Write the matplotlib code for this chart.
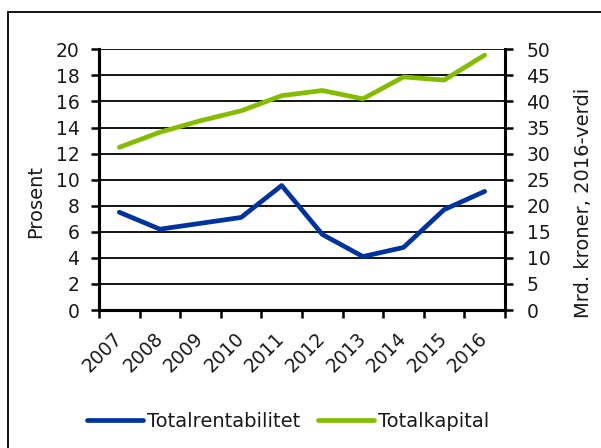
import matplotlib
matplotlib.use("Agg")
import matplotlib.pyplot as plt
from matplotlib.patches import Rectangle
from matplotlib.lines import Line2D

years = ["2007", "2008", "2009", "2010", "2011", "2012", "2013", "2014", "2015", "2016"]
totalrentabilitet = [7.5, 6.2, 6.65, 7.1, 9.55, 5.8, 4.1, 4.8, 7.7, 9.1]
totalkapital = [31.2, 34.1, 36.3, 38.2, 41.1, 42.1, 40.5, 44.7, 44.1, 48.9]
left_ticks = [0, 2, 4, 6, 8, 10, 12, 14, 16, 18, 20]
right_ticks = [0, 5, 10, 15, 20, 25, 30, 35, 40, 45, 50]

BLUE = "#0033A0"
GREEN = "#84BD00"
TXT = "#1a1a1a"
FS = 14
TFS = 13.5

fig = plt.figure(figsize=(6.01, 4.48), dpi=100)
fig.patch.set_facecolor("white")
W, H = 601, 448

# outer frame
fig.patches.append(Rectangle((8 / W, -0.1), 1.2, (1 - 12 / H) + 0.1, transform=fig.transFigure,
                             fill=False, edgecolor="black", linewidth=1.3))

ax = fig.add_axes([99 / W, 1 - 310 / H, (505 - 99) / W, (310 - 49.3) / H])
ax2 = ax.twinx()

x = list(range(len(years)))
ax.plot(x, totalrentabilitet, color=BLUE, lw=3.4, solid_capstyle="round", zorder=5)
ax2.plot(x, totalkapital, color=GREEN, lw=3.4, solid_capstyle="round", zorder=5)

ax.set_xlim(-0.5, len(years) - 0.5)
ax.set_ylim(0, 20)
ax2.set_ylim(0, 50)
ax.set_yticks(left_ticks)
ax2.set_yticks(right_ticks)
ax.set_yticklabels([str(v) for v in left_ticks], fontsize=TFS, color=TXT)
ax2.set_yticklabels([str(v) for v in right_ticks], fontsize=TFS, color=TXT)

ax.set_xticks(x)
ax.set_xticklabels(years, fontsize=TFS, rotation=45, ha="right", va="center",
                   rotation_mode="anchor", color=TXT)
ax.set_xticks([i - 0.5 for i in range(len(years) + 1)], minor=True)
ax.tick_params(axis="x", which="major", length=0, pad=18.5)
ax.tick_params(axis="x", which="minor", length=6, width=1.8, direction="out")
ax.tick_params(axis="y", length=6, width=1.8, direction="out", pad=8)
ax2.tick_params(axis="y", length=6, width=1.8, direction="out", pad=9.5)

ax.grid(axis="y", color="black", lw=1.3)
ax.set_axisbelow(True)
for a in (ax, ax2):
    for s in a.spines.values():
        s.set_linewidth(2.2)
    a.spines["top"].set_visible(False)
ax.spines["right"].set_visible(False)

fig.text(36 / W, 1 - 201.5 / H, "Prosent", rotation=90, ha="center", va="center",
         fontsize=FS, color=TXT)
fig.text(583.5 / W, 1 - 203 / H, "Mrd. kroner, 2016-verdi", rotation=90, ha="center",
         va="center", fontsize=FS, color=TXT)

handles = [Line2D([], [], color=BLUE, lw=3.4, solid_capstyle="round"),
           Line2D([], [], color=GREEN, lw=3.4, solid_capstyle="round")]
leg = fig.legend(handles, ["Totalrentabilitet", "Totalkapital"], loc="center",
                 bbox_to_anchor=(288 / W, 1 - 421 / H), ncol=2, frameon=False,
                 fontsize=FS, handlelength=2.9, handletextpad=0.2, columnspacing=0.9)
for t in leg.get_texts():
    t.set_color(TXT)

fig.savefig("out.png", dpi=100)
